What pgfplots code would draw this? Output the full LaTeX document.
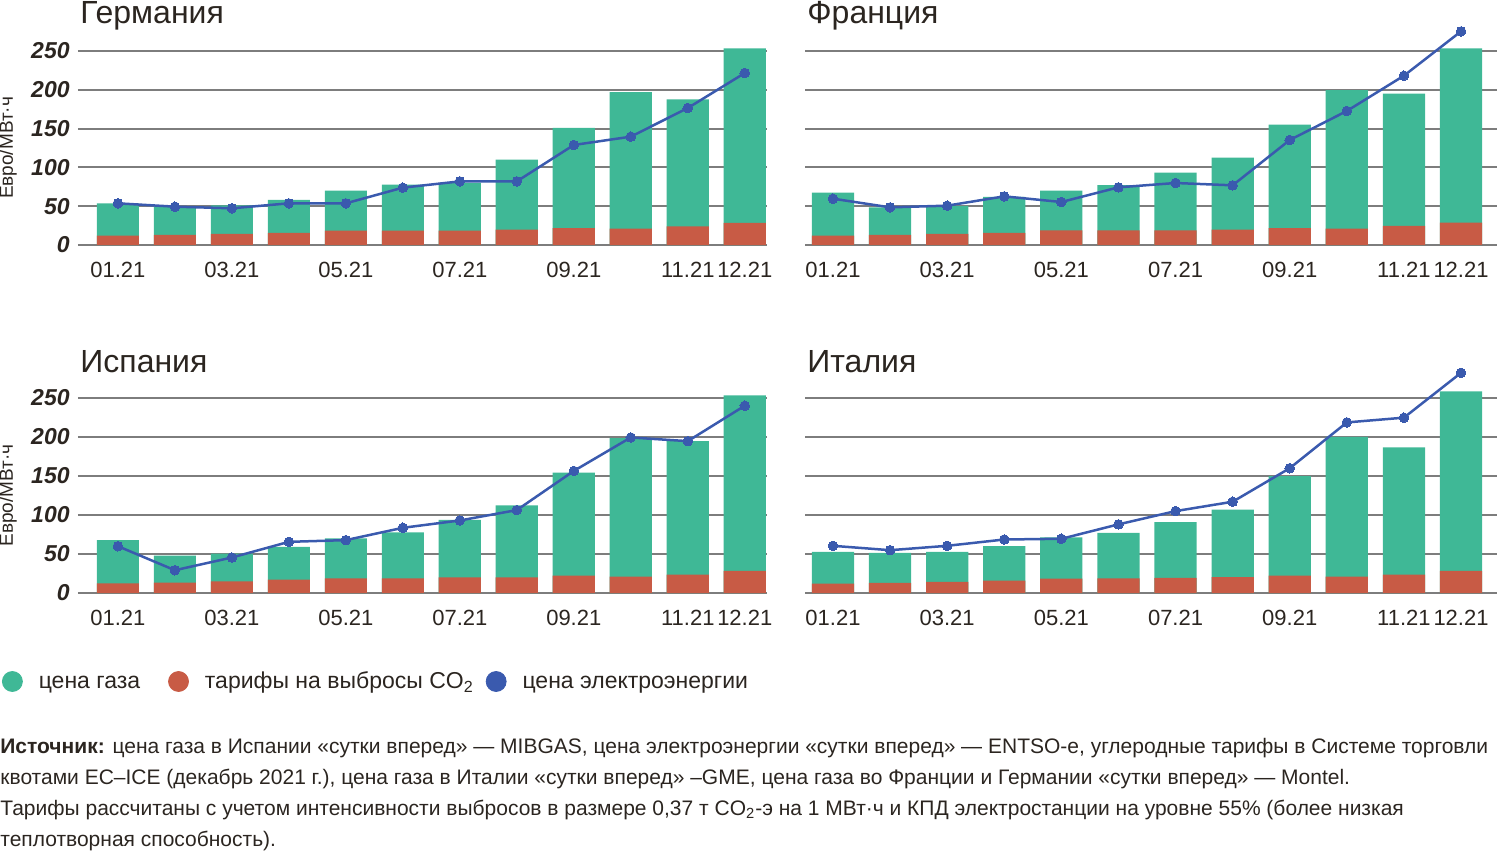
\documentclass[border=0pt]{standalone}
\usepackage{pgfplots}
\pgfplotsset{compat=1.18}
\usepackage{pgfplotstable}
\usepackage{fontspec}
\setmainfont{Liberation Sans}
\definecolor{gasc}{HTML}{3FB896}
\definecolor{co2c}{HTML}{C85B45}
\definecolor{elc}{HTML}{3A5AAE}
\definecolor{gridc}{HTML}{7D7D7D}
\definecolor{txtc}{HTML}{2B2520}

% m: month index (0 = 01.21), co2: CO2 tariff, gas: gas price, el: electricity price
\pgfplotstableread{
m co2 gas el
0 12.0 41.7 53.7
1 12.9 37.1 49.4
2 14.2 36.8 47.3
3 15.5 42.5 53.7
4 18.5 51.5 53.7
5 18.5 59.2 73.9
6 18.5 61.5 82.0
7 19.8 90.2 82.0
8 21.9 128.9 128.9
9 21.0 176.0 139.6
10 24.0 163.7 176.5
11 28.4 225.0 221.6
}\de
\pgfplotstableread{
m co2 gas el
0 12.0 55.4 59.7
1 12.9 35.6 48.5
2 14.2 36.1 50.7
3 15.5 46.5 62.7
4 18.9 51.1 55.4
5 18.9 58.1 74.3
6 18.9 74.3 79.9
7 19.8 92.7 76.9
8 21.9 133.1 135.3
9 21.0 178.7 172.7
10 24.5 170.5 218.2
11 28.8 224.6 275.3
}\fr
\pgfplotstableread{
m co2 gas el
0 12.4 55.4 60.0
1 13.3 34.7 29.2
2 15.0 35.6 45.5
3 17.2 42.0 65.6
4 18.9 51.0 67.8
5 18.9 58.7 83.6
6 20.2 73.7 93.0
7 20.2 92.1 106.3
8 22.3 132.1 156.5
9 21.0 177.5 199.4
10 23.6 171.1 194.7
11 28.3 225.1 240.1
}\es
\pgfplotstableread{
m co2 gas el
0 12.0 40.7 60.5
1 12.9 38.6 54.9
2 14.2 38.5 60.5
3 15.9 44.1 68.6
4 18.4 52.8 69.5
5 18.9 58.3 88.0
6 19.3 71.6 105.0
7 20.2 86.6 117.0
8 22.3 127.4 160.0
9 21.0 179.3 218.7
10 23.6 163.0 224.8
11 28.3 230.3 282.3
}\it

\pgfplotsset{
 panel/.style={
  scale only axis, anchor=south west,
  ymin=0, ymax=250, ytick={0,50,100,150,200,250},
  ymajorgrids, grid style={draw=gridc, line width=1pt},
  axis line style={draw=none}, major tick style={draw=none}, major tick length=0pt,
  xtick={0,2,4,6,8,10,11},
  xticklabels={01.21,03.21,05.21,07.21,09.21,11.21,12.21},
  xticklabel style={font=\fontsize{11}{12}\selectfont, text=txtc, anchor=base, inner sep=0pt, yshift=-16pt},
  yticklabel style={font=\fontsize{11.5}{12}\selectfont\bfseries\itshape, text=txtc, anchor=east, inner sep=0pt, xshift=-4pt},
  /pgf/number format/assume math mode=true,
  clip=false,
  title style={font=\fontsize{16}{18}\selectfont, text=txtc, anchor=base west, inner sep=0pt, at={(0,1)}},
  ylabel style={at={(axis description cs:-0.1016,0.5)}, anchor=center, font=\fontsize{9.5}{10}\selectfont, text=txtc, inner sep=0pt},
 },
 leftp/.style={panel, width=344.5pt, xmin=-0.70, xmax=11.39, ylabel={Евро/МВт·ч}},
 rightp/.style={panel, width=346pt, xmin=-0.49, xmax=11.63, yticklabels={}},
 gasbar/.style={ybar, bar width=0.74, bar shift=0pt, fill=gasc, draw=none},
 co2bar/.style={ybar, bar width=0.74, bar shift=0pt, fill=co2c, draw=none},
 elline/.style={sharp plot, draw=elc, line width=1.25pt, mark=*, mark size=2.4pt, mark options={fill=elc, draw=elc, line width=0pt}},
}

\begin{document}
\begin{tikzpicture}[x=1pt,y=1pt]
% Германия
\begin{axis}[leftp, at={(39pt,-122.5pt)}, height=97pt,
  title={Германия}, title style={xshift=1pt, yshift=7.5pt}]
\addplot[gasbar] table[x=m, y expr=\thisrow{gas}+\thisrow{co2}] {\de};
\addplot[co2bar] table[x=m, y=co2] {\de};
\addplot[elline] table[x=m, y=el] {\de};
\end{axis}
% Франция
\begin{axis}[rightp, at={(402.5pt,-122.5pt)}, height=97pt,
  title={Франция}, title style={xshift=1pt, yshift=7.5pt}]
\addplot[gasbar] table[x=m, y expr=\thisrow{gas}+\thisrow{co2}] {\fr};
\addplot[co2bar] table[x=m, y=co2] {\fr};
\addplot[elline] table[x=m, y=el] {\fr};
\end{axis}
% Испания
\begin{axis}[leftp, at={(39pt,-296.5pt)}, height=97.5pt,
  title={Испания}, title style={xshift=1pt, yshift=6.7pt},
  legend columns=3,
  legend style={at={(axis description cs:-0.1103,-0.4538)}, anchor=west,
    draw=none, fill=none, inner sep=0pt, outer sep=0pt,
    font=\fontsize{11.5}{12}\selectfont, text=txtc,
    nodes={inner sep=0pt, anchor=base west},
    /tikz/every odd column/.append style={column sep=8pt},
    /tikz/column 2/.append style={column sep=14pt},
    /tikz/column 4/.append style={column sep=6pt}},
  legend cell align=left]
\addplot[gasbar, forget plot] table[x=m, y expr=\thisrow{gas}+\thisrow{co2}] {\es};
\addplot[co2bar, forget plot] table[x=m, y=co2] {\es};
\addplot[elline, forget plot] table[x=m, y=el] {\es};
\addlegendimage{legend image code/.code={\fill[gasc] (5pt,3.5pt) circle (5pt);}}
\addlegendentry{цена газа}
\addlegendimage{legend image code/.code={\fill[co2c] (5pt,3.5pt) circle (5pt);}}
\addlegendentry{тарифы на выбросы CO\textsubscript{2}}
\addlegendimage{legend image code/.code={\fill[elc] (5pt,3.5pt) circle (5pt);}}
\addlegendentry{цена электроэнергии}
\end{axis}
% Италия
\begin{axis}[rightp, at={(402.5pt,-296.5pt)}, height=97.5pt,
  title={Италия}, title style={xshift=1pt, yshift=6.7pt}]
\addplot[gasbar] table[x=m, y expr=\thisrow{gas}+\thisrow{co2}] {\it};
\addplot[co2bar] table[x=m, y=co2] {\it};
\addplot[elline] table[x=m, y=el] {\it};
\end{axis}
% Источник
\begin{scope}[every node/.style={anchor=base west, inner sep=0pt, text=txtc, font=\fontsize{10.5}{12}\selectfont}]
\node at (0,-376.5) {\textbf{Источник:} цена газа в Испании «сутки вперед» — MIBGAS, цена электроэнергии «сутки вперед» — ENTSO-e, углеродные тарифы в Системе торговли};
\node at (0,-392) {квотами ЕС–ICE (декабрь 2021 г.), цена газа в Италии «сутки вперед» –GME, цена газа во Франции и Германии «сутки вперед» — Montel.};
\node at (0,-407.5) {Тарифы рассчитаны с учетом интенсивности выбросов в размере 0,37 т CO\textsubscript{2}-э на 1 МВт·ч и КПД электростанции на уровне 55\% (более низкая};
\node at (0,-423) {теплотворная способность).};
\end{scope}
\pgfresetboundingbox
\path (0,0) rectangle (750,-425.5);
\end{tikzpicture}
\end{document}
